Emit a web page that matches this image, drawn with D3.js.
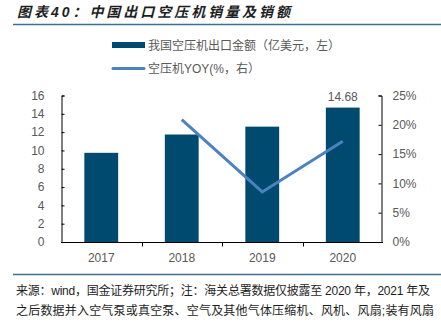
<!DOCTYPE html>
<html>
<head>
<meta charset="utf-8">
<script src="https://cdn.jsdelivr.net/npm/d3@7"></script>
<style>
  html, body { margin: 0; padding: 0; background: #fff; }
  svg { display: block; }
  text { font-family: "Liberation Sans", Arial, "Noto Sans CJK SC", sans-serif; }
</style>
</head>
<body>
<svg id="chart"></svg>
<script>
// 年份与两组数据
const years = ['2017', '2018', '2019', '2020'];
const exportValue = [9.74, 11.74, 12.6, 14.68];      // 亿美元，左轴
const yoyYears = ['2018', '2019', '2020'];
const yoyValue = [20.9, 8.55, 17.2];                  // %，右轴
const leftTicks = [0, 2, 4, 6, 8, 10, 12, 14, 16];
const rightTicks = [0, 5, 10, 15, 20, 25];

const W = 441, H = 322;
const margin = { left: 61, right: 60, top: 95, bottom: 80 };
const barColor = '#004a6f';
const lineColor = '#4a83c0';
const textGray = '#595959';
const cjk = '"Noto Sans CJK SC", sans-serif';

const svg = d3.select('#chart').attr('width', W).attr('height', H);

// 标题
svg.append('text')
    .attr('x', 17).attr('y', 17)
    .attr('font-family', cjk)
    .attr('font-size', 14)
    .attr('font-weight', 'bold')
    .attr('font-style', 'italic')
    .attr('fill', '#1e1e1e')
    .attr('textLength', 273)
    .attr('lengthAdjust', 'spacing')
    .text('图表40：中国出口空压机销量及销额');

svg.append('line')
    .attr('x1', 13).attr('x2', W).attr('y1', 24.5).attr('y2', 24.5)
    .attr('stroke', '#3f6f8f').attr('stroke-width', 1.5);

// 比例尺
const x = d3.scaleBand().domain(years).range([61, 383]).paddingInner(0.58).paddingOuter(0.29);
const yL = d3.scaleLinear().domain([0, 16]).range([242, 95.5]);
const yR = d3.scaleLinear().domain([0, 25]).range([242, 95.5]);
const xc = d => x(d) + x.bandwidth() / 2;

// 柱子
svg.append('g').selectAll('rect')
    .data(years)
    .join('rect')
    .attr('x', d => x(d))
    .attr('width', x.bandwidth())
    .attr('y', (d, i) => yL(exportValue[i]))
    .attr('height', (d, i) => 242 - yL(exportValue[i]))
    .attr('fill', barColor);

// 2020 数值标签
svg.append('text')
    .attr('x', xc('2020'))
    .attr('y', yL(exportValue[3]) - 7)
    .attr('text-anchor', 'middle')
    .attr('font-size', 12)
    .attr('fill', textGray)
    .text(exportValue[3].toFixed(2));

// 同比折线
const line = d3.line()
    .x((d, i) => xc(yoyYears[i]))
    .y(d => yR(d));
svg.append('path')
    .datum(yoyValue)
    .attr('d', line)
    .attr('fill', 'none')
    .attr('stroke', lineColor)
    .attr('stroke-width', 3);

// 坐标轴
const axisStyle = g => {
    g.select('.domain').attr('stroke', '#000').attr('stroke-width', 1);
    g.selectAll('.tick line').attr('stroke', '#000');
    g.selectAll('.tick text').attr('fill', textGray).attr('font-size', 12)
        .attr('font-family', '"Liberation Sans", Arial, sans-serif');
};

svg.append('g')
    .attr('transform', 'translate(61.5,0)')
    .call(d3.axisRight(yL).tickValues(leftTicks).tickSize(3).tickSizeOuter(3).tickFormat(d3.format('d')))
    .call(axisStyle)
    .call(g => g.selectAll('.tick text').attr('x', -17).attr('text-anchor', 'end'));

svg.append('g')
    .attr('transform', 'translate(381.5,0)')
    .call(d3.axisLeft(yR).tickValues(rightTicks).tickSize(3).tickSizeOuter(3).tickFormat(d => d + '%'))
    .call(axisStyle)
    .call(g => g.selectAll('.tick text').attr('x', 11).attr('text-anchor', 'start'));

// x 轴：刻度位于类别分界处
const xAxis = svg.append('g').attr('transform', 'translate(0,242.5)');
xAxis.append('line')
    .attr('x1', 61).attr('x2', 383)
    .attr('stroke', '#000');
const bounds = years.slice(1).map((d, i) => (xc(years[i]) + xc(d)) / 2);
xAxis.selectAll('.sep')
    .data(bounds)
    .join('line')
    .attr('x1', d => Math.round(d) + 0.5).attr('x2', d => Math.round(d) + 0.5)
    .attr('y1', 0).attr('y2', 4)
    .attr('stroke', '#000');
xAxis.selectAll('.lbl')
    .data(years)
    .join('text')
    .attr('x', d => xc(d))
    .attr('y', 19)
    .attr('text-anchor', 'middle')
    .attr('font-size', 12)
    .attr('fill', textGray)
    .text(d => d);

// 图例
const legend = svg.append('g');
legend.append('rect')
    .attr('x', 112).attr('y', 42).attr('width', 33).attr('height', 6)
    .attr('fill', barColor);
legend.append('text')
    .attr('x', 148).attr('y', 50)
    .attr('font-family', cjk).attr('font-size', 12).attr('fill', textGray)
    .text('我国空压机出口金额（亿美元，左）');
legend.append('line')
    .attr('x1', 113).attr('x2', 144).attr('y1', 68.5).attr('y2', 68.5)
    .attr('stroke', lineColor).attr('stroke-width', 3).attr('stroke-linecap', 'round');
legend.append('text')
    .attr('x', 148).attr('y', 73)
    .attr('font-family', cjk).attr('font-size', 12).attr('fill', textGray)
    .text('空压机YOY(%，右）');

// 来源与注释
svg.append('line')
    .attr('x1', 13).attr('x2', W).attr('y1', 274.5).attr('y2', 274.5)
    .attr('stroke', '#3f6f8f').attr('stroke-width', 1.5);

const notes = [
    '来源：wind，国金证券研究所；注：海关总署数据仅披露至 2020 年，2021 年及',
    '之后数据并入空气泵或真空泵、空气及其他气体压缩机、风机、风扇;装有风扇'
];
svg.selectAll('.note')
    .data(notes)
    .join('text')
    .attr('x', 16)
    .attr('y', (d, i) => 295 + i * 20)
    .attr('font-family', cjk)
    .attr('font-size', 12)
    .attr('fill', '#1e1e1e')
    .attr('textLength', (d, i) => i === 0 ? 414 : 418)
    .attr('lengthAdjust', 'spacing')
    .text(d => d);
</script>
</body>
</html>
